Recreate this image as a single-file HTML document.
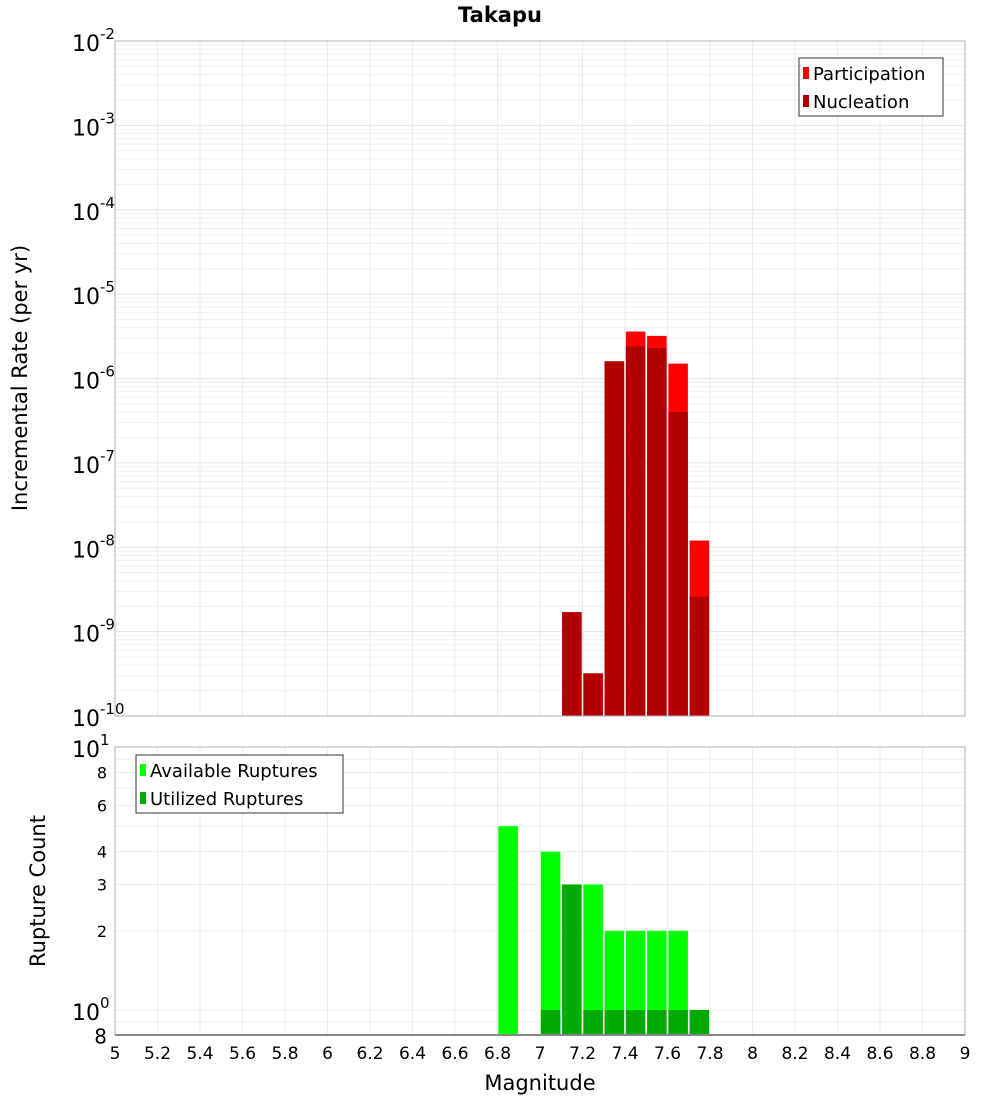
<!DOCTYPE html>
<html><head><meta charset="utf-8"><style>
body{margin:0;background:#fff;}
svg{display:block;font-family:"DejaVu Sans","Liberation Sans",sans-serif;}
</style></head><body>
<svg id="c" width="1000" height="1100" xmlns="http://www.w3.org/2000/svg"></svg>
<script>
const bins=[7.15,7.25,7.35,7.45,7.55,7.65,7.75];
const participation=[1.7e-9,3.2e-10,1.6e-6,3.6e-6,3.2e-6,1.5e-6,1.2e-8];
const nucleation=[1.7e-9,3.2e-10,1.6e-6,2.4e-6,2.3e-6,4.0e-7,2.6e-9];
const countBins=[6.85,7.05,7.15,7.25,7.35,7.45,7.55,7.65,7.75];
const available=[5,4,3,3,2,2,2,2,1];
const utilized=[0,1,3,1,1,1,1,1,1];
const xTicks=["5","5.2","5.4","5.6","5.8","6","6.2","6.4","6.6","6.8","7","7.2","7.4","7.6","7.8","8","8.2","8.4","8.6","8.8","9"];
const topExps=[-2,-3,-4,-5,-6,-7,-8,-9,-10];
const botMinor=[2,3,4,6,8];

const S=document.getElementById('c');const NS='http://www.w3.org/2000/svg';
function el(t,a,txt){const e=document.createElementNS(NS,t);for(const k in a)e.setAttribute(k,a[k]);if(txt!==undefined)e.textContent=txt;S.appendChild(e);return e;}
const X0=115,X1=965;
const xs=m=>X0+(m-5)/4*(X1-X0);
const T0=41,T1=716;
const yt=v=>T0+(-2-Math.log10(v))*(T1-T0)/8;
const B0=747,B1=1035;
const yb=v=>1010-Math.log10(v)*263;
const bw=19.5;

for(let d=-10;d<-2;d++){for(let k=2;k<10;k++){const y=yt(k*Math.pow(10,d));const g=el('line',{x1:X0,x2:X1,y1:y,y2:y,stroke:'#efefef','stroke-width':1});}}
topExps.forEach(e=>{const y=yt(Math.pow(10,e));const g=el('line',{x1:X0,x2:X1,y1:y,y2:y,stroke:'#e2e2e2'});});
xTicks.forEach(t=>{const x=xs(+t);const g=el('line',{x1:x,x2:x,y1:T0,y2:T1,stroke:'#ebebeb'});
const g2=el('line',{x1:x,x2:x,y1:B0,y2:B1,stroke:'#ebebeb'});});
[1,10].concat(botMinor,[0.8,0.9,5,7,9]).forEach(v=>{const y=yb(v);if(y<B0-1||y>B1)return;const g=el('line',{x1:X0,x2:X1,y1:y,y2:y,stroke:'#ebebeb'});});

bins.forEach((m,i)=>{const x=xs(m)-bw/2;
let r=el('rect',{x:x,y:yt(participation[i]),width:bw,height:T1-yt(participation[i]),fill:'#ff0000'});
r=el('rect',{x:x,y:yt(nucleation[i]),width:bw,height:T1-yt(nucleation[i]),fill:'#b20000'});});
countBins.forEach((m,i)=>{const x=xs(m)-bw/2;
let r=el('rect',{x:x,y:yb(available[i]),width:bw,height:B1-yb(available[i]),fill:'#00ff00'});
if(utilized[i]>0){r=el('rect',{x:x,y:yb(utilized[i]),width:bw,height:B1-yb(utilized[i]),fill:'#00aa00'});}});

let f=el('rect',{x:X0,y:T0,width:X1-X0,height:T1-T0,fill:'none',stroke:'#b0b0b0'});
f=el('rect',{x:X0,y:B0,width:X1-X0,height:B1-B0,fill:'none',stroke:'#b0b0b0'});
f=el('line',{x1:X0,x2:X1,y1:B1,y2:B1,stroke:'#888','stroke-width':2});

topExps.forEach(e=>{const y=yt(Math.pow(10,e));const t=el('text',{x:72,y:y+10,'font-size':22});
const a=document.createElementNS(NS,'tspan');a.textContent='10';t.appendChild(a);const b=document.createElementNS(NS,'tspan');b.setAttribute('dy','-12');b.setAttribute('font-size','15');b.textContent=String(e);t.appendChild(b);});
[[10,'1'],[1,'0']].forEach(([v,e])=>{const y=yb(v);const t=el('text',{x:72,y:y+10,'font-size':22});
const a=document.createElementNS(NS,'tspan');a.textContent='10';t.appendChild(a);const b=document.createElementNS(NS,'tspan');b.setAttribute('dy','-12');b.setAttribute('font-size','15');b.textContent=e;t.appendChild(b);});
botMinor.forEach(v=>{const t=el('text',{x:107,y:yb(v)+6,'font-size':16,'text-anchor':'end'},String(v));});
let t8=el('text',{x:107,y:yb(0.8)+8,'font-size':20,'text-anchor':'end'},'8');
xTicks.forEach(v=>{const t=el('text',{x:xs(+v),y:1059,'font-size':17,'text-anchor':'middle'},v);});

let t=el('text',{x:500,y:22,'font-size':21,'font-weight':'bold','text-anchor':'middle'},'Takapu');
t=el('text',{x:540,y:1090,'font-size':21,'text-anchor':'middle'},'Magnitude');
t=el('text',{x:0,y:0,'font-size':21,'text-anchor':'middle',transform:'translate(27,378) rotate(-90)'},'Incremental Rate (per yr)');
t=el('text',{x:0,y:0,'font-size':21,'text-anchor':'middle',transform:'translate(45,891) rotate(-90)'},'Rupture Count');

function legend(x,y,w,items,name){const r=el('rect',{x:x,y:y,width:w,height:58,fill:'#fff',stroke:'#333'});
items.forEach(([c,l],i)=>{const yy=y+15+i*28;const s=el('rect',{x:x+4,y:yy-6,width:6,height:12,fill:c});
const tt=el('text',{x:x+14,y:yy+7,'font-size':18},l);});}
legend(799,58,144,[['#ff0000','Participation'],['#b20000','Nucleation']],'top-legend');
legend(136,755,207,[['#00ff00','Available Ruptures'],['#00aa00','Utilized Ruptures']],'bottom-legend');
</script>
</body></html>
